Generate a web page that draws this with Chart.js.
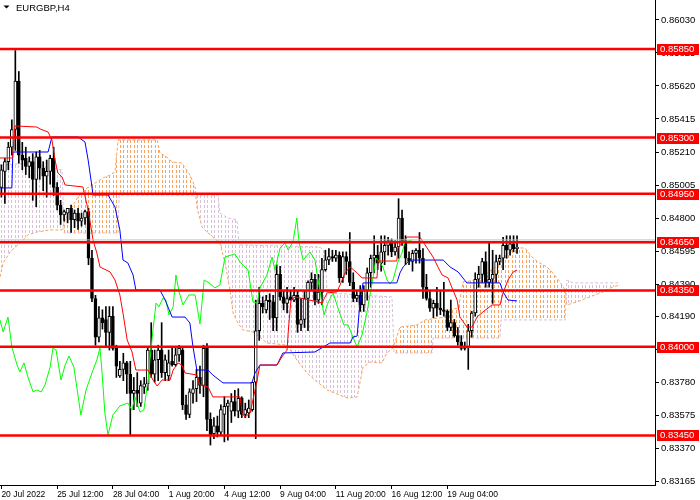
<!DOCTYPE html>
<html>
<head>
<meta charset="utf-8">
<title>EURGBP,H4</title>
<script src="https://cdn.jsdelivr.net/npm/chart.js@4.4.1/dist/chart.umd.min.js"></script>
<style>
  html, body { margin: 0; padding: 0; background: #fff; }
  #wrap { width: 700px; height: 500px; }
</style>
</head>
<body>
<div id="wrap"><canvas id="chart" width="700" height="500"></canvas></div>
<script>
// H4 candles, bar index 0..148
const openP = [
0.8499,0.8509,0.8515,0.8524,0.8535,0.8565,0.8519,0.8517,0.8512,0.8515,
0.8504,0.8518,0.8511,0.8506,0.8509,0.8517,0.8499,0.8488,0.8482,0.8483,
0.8486,0.8479,0.8483,0.8478,0.8480,0.8484,0.8455,0.8430,0.8406,0.8418,
0.8417,0.8409,0.8419,0.8399,0.8382,0.8386,0.8390,0.8383,0.8371,0.8373,
0.8365,0.8375,0.8377,0.8398,0.8383,0.8392,0.8398,0.8384,0.8382,0.8391,
0.8389,0.8395,0.8398,0.8364,0.8358,0.8371,0.8374,0.8381,0.8376,0.8399,
0.8355,0.8346,0.8351,0.8347,0.8358,0.8363,0.8360,0.8366,0.8360,0.8368,
0.8358,0.8359,0.8361,0.8378,0.8410,0.8427,0.8423,0.8429,0.8428,0.8418,
0.8445,0.8431,0.8427,0.8431,0.8429,0.8432,0.8414,0.8417,0.8430,0.8440,
0.8442,0.8429,0.8434,0.8448,0.8454,0.8456,0.8455,0.8457,0.8443,0.8456,
0.8453,0.8440,0.8430,0.8432,0.8426,0.8435,0.8446,0.8455,0.8457,0.8452,
0.8459,0.8463,0.8466,0.8459,0.8462,0.8480,0.8466,0.8455,0.8453,0.8458,
0.8460,0.8455,0.8437,0.8430,0.8424,0.8427,0.8424,0.8423,0.8422,0.8412,
0.8415,0.8407,0.8403,0.8399,0.8400,0.8410,0.8421,0.8442,0.8445,0.8453,
0.8440,0.8442,0.8445,0.8453,0.8455,0.8463,0.8460,0.8464,0.8461];
const highP = [
0.8513,0.8517,0.8527,0.8541,0.8584,0.8571,0.8527,0.8524,0.8518,0.8520,
0.8521,0.8522,0.8515,0.8516,0.8519,0.8524,0.8502,0.8491,0.8485,0.8486,
0.8488,0.8485,0.8486,0.8483,0.8485,0.8486,0.8460,0.8432,0.8425,0.8423,
0.8425,0.8425,0.8425,0.8401,0.8391,0.8396,0.8391,0.8391,0.8381,0.8384,
0.8379,0.8381,0.8400,0.8415,0.8398,0.8401,0.8415,0.8395,0.8398,0.8400,
0.8400,0.8401,0.8400,0.8370,0.8374,0.8379,0.8386,0.8388,0.8401,0.8402,
0.8359,0.8356,0.8357,0.8364,0.8369,0.8367,0.8371,0.8373,0.8374,0.8369,
0.8365,0.8367,0.8378,0.8429,0.8437,0.8431,0.8432,0.8433,0.8432,0.8451,
0.8450,0.8435,0.8437,0.8435,0.8437,0.8435,0.8430,0.8435,0.8441,0.8446,
0.8445,0.8445,0.8455,0.8460,0.8461,0.8460,0.8460,0.8459,0.8459,0.8459,
0.8471,0.8446,0.8435,0.8438,0.8438,0.8449,0.8457,0.8469,0.8463,0.8469,
0.8469,0.8468,0.8467,0.8466,0.8492,0.8485,0.8469,0.8459,0.8460,0.8461,
0.8471,0.8461,0.8445,0.8435,0.8429,0.8437,0.8435,0.8440,0.8423,0.8429,
0.8417,0.8412,0.8407,0.8403,0.8414,0.8422,0.8446,0.8450,0.8455,0.8459,
0.8465,0.8460,0.8457,0.8457,0.8468,0.8469,0.8469,0.8469,0.8469];
const lowP = [
0.8493,0.8489,0.8510,0.8519,0.8522,0.8514,0.8510,0.8507,0.8505,0.8491,
0.8487,0.8504,0.8497,0.8493,0.8501,0.8494,0.8485,0.8476,0.8478,0.8477,
0.8471,0.8474,0.8473,0.8475,0.8476,0.8451,0.8428,0.8401,0.8403,0.8411,
0.8400,0.8398,0.8398,0.8381,0.8381,0.8379,0.8371,0.8345,0.8361,0.8363,
0.8363,0.8371,0.8373,0.8381,0.8378,0.8379,0.8381,0.8379,0.8379,0.8388,
0.8388,0.8391,0.8361,0.8355,0.8356,0.8365,0.8366,0.8371,0.8369,0.8348,
0.8339,0.8343,0.8344,0.8345,0.8341,0.8342,0.8353,0.8357,0.8356,0.8356,
0.8356,0.8356,0.8360,0.8343,0.8404,0.8421,0.8421,0.8417,0.8410,0.8410,
0.8429,0.8423,0.8421,0.8429,0.8428,0.8409,0.8410,0.8412,0.8410,0.8435,
0.8426,0.8427,0.8426,0.8447,0.8451,0.8453,0.8453,0.8440,0.8440,0.8445,
0.8438,0.8428,0.8428,0.8422,0.8422,0.8429,0.8437,0.8446,0.8448,0.8447,
0.8451,0.8457,0.8456,0.8457,0.8455,0.8463,0.8451,0.8451,0.8447,0.8452,
0.8452,0.8430,0.8429,0.8422,0.8418,0.8419,0.8420,0.8419,0.8410,0.8410,
0.8406,0.8401,0.8398,0.8398,0.8386,0.8406,0.8419,0.8437,0.8440,0.8437,
0.8437,0.8427,0.8440,0.8451,0.8448,0.8455,0.8457,0.8459,0.8458];
const closeP = [
0.8510,0.8515,0.8524,0.8535,0.8565,0.8519,0.8516,0.8512,0.8515,0.8504,
0.8518,0.8511,0.8506,0.8509,0.8517,0.8499,0.8488,0.8482,0.8484,0.8486,
0.8479,0.8483,0.8478,0.8480,0.8484,0.8455,0.8430,0.8406,0.8418,0.8415,
0.8409,0.8419,0.8399,0.8388,0.8386,0.8390,0.8383,0.8371,0.8373,0.8371,
0.8376,0.8377,0.8398,0.8383,0.8392,0.8398,0.8384,0.8392,0.8390,0.8389,
0.8395,0.8399,0.8364,0.8358,0.8372,0.8374,0.8381,0.8376,0.8399,0.8355,
0.8345,0.8351,0.8347,0.8361,0.8363,0.8365,0.8366,0.8360,0.8368,0.8358,
0.8361,0.8362,0.8378,0.8410,0.8427,0.8425,0.8429,0.8428,0.8418,0.8445,
0.8431,0.8427,0.8430,0.8429,0.8432,0.8414,0.8417,0.8430,0.8440,0.8442,
0.8429,0.8434,0.8448,0.8454,0.8456,0.8455,0.8457,0.8443,0.8456,0.8453,
0.8440,0.8430,0.8432,0.8426,0.8435,0.8446,0.8455,0.8457,0.8452,0.8459,
0.8463,0.8466,0.8459,0.8462,0.8480,0.8466,0.8455,0.8453,0.8458,0.8460,
0.8455,0.8437,0.8430,0.8424,0.8427,0.8424,0.8423,0.8422,0.8412,0.8415,
0.8407,0.8403,0.8399,0.8400,0.8410,0.8421,0.8442,0.8445,0.8453,0.8440,
0.8442,0.8445,0.8453,0.8455,0.8463,0.8460,0.8464,0.8461,0.8462];

// Ichimoku lines as [bar index, price] vertices
const tenkanPts = [[-0.4,.85173],[3.2,.85173],[3.9,.85372],[10.2,.85365],[11.1,.85353],[13.4,.85334],[14.5,.85285],[15.4,.85160],[16.2,.85080],[17.4,.85055],[18.3,.85005],[23.4,.84993],[24.9,.84850],[26.3,.84664],[27.4,.84583],[28.3,.84496],[31.2,.84465],[32.6,.84415],[34.0,.84322],[34.9,.84210],[36.1,.84043],[37.5,.83968],[38.6,.83856],[42.1,.83856],[43.5,.83794],[44.7,.83757],[46.1,.83794],[48.4,.83794],[49.3,.83856],[50.7,.83900],[51.8,.83887],[52.7,.83838],[56.1,.83825],[57.0,.83763],[59.3,.83751],[60.7,.83689],[68.5,.83689],[69.1,.83589],[69.9,.83564],[71.4,.83589],[72.2,.83670],[73.4,.83794],[74.2,.83887],[79.1,.83887],[80.5,.83937],[82.0,.83980],[82.3,.84086],[83.1,.84291],[84.3,.84310],[90.9,.84279],[92.0,.84272],[93.5,.84335],[96.3,.84341],[97.2,.84384],[98.6,.84459],[100.1,.84496],[102.1,.84459],[103.5,.84428],[107.8,.84428],[108.1,.84533],[113.5,.84533],[113.8,.84614],[116.4,.84682],[120.1,.84682],[121.6,.84633],[123.9,.84558],[125.3,.84496],[126.5,.84446],[128.2,.84428],[129.6,.84353],[130.8,.84291],[131.6,.84185],[133.6,.84123],[135.1,.84123],[136.5,.84185],[138.2,.84216],[140.8,.84260],[143.1,.84260],[144.0,.84335],[145.4,.84415],[146.9,.84465],[148.0,.84477]];
const kijunPts = [[-0.4,.84987],[3.0,.84987],[3.3,.85210],[13.4,.85210],[14.5,.85303],[22.0,.85303],[24.0,.85272],[24.9,.85160],[26.0,.84993],[26.3,.84943],[30.6,.84943],[32.6,.84869],[34.0,.84726],[34.9,.84539],[36.3,.84521],[37.8,.84446],[38.6,.84353],[45.5,.84353],[47.0,.84291],[49.0,.84185],[52.7,.84185],[54.1,.84148],[55.0,.83999],[56.1,.83856],[59.3,.83856],[60.7,.83825],[63.6,.83776],[71.9,.83776],[72.8,.83838],[74.2,.83887],[79.1,.83887],[80.8,.83962],[90.0,.83968],[94.3,.84024],[100.1,.84024],[100.9,.84061],[102.1,.84067],[102.9,.84272],[103.8,.84397],[113.5,.84397],[114.4,.84459],[115.3,.84496],[117.3,.84539],[126.8,.84539],[128.8,.84496],[131.1,.84465],[133.6,.84397],[143.1,.84397],[144.0,.84341],[145.4,.84291],[148.0,.84285]];
const chikouPts = [[-0.4,.84167],[0.5,.84092],[1.9,.84185],[3.0,.83999],[4.5,.83887],[5.3,.83844],[6.5,.83900],[7.6,.83813],[9.1,.83720],[10.2,.83732],[11.4,.83720],[12.5,.83763],[14.0,.83875],[14.8,.83993],[15.7,.83980],[17.1,.83794],[18.3,.83887],[19.4,.83943],[20.8,.83875],[22.8,.83577],[24.3,.83732],[26.0,.83838],[27.4,.83918],[28.3,.83993],[28.9,.83838],[29.7,.83589],[30.6,.83453],[32.0,.83577],[34.0,.83633],[36.3,.83651],[37.5,.83608],[38.3,.83689],[39.8,.83595],[40.9,.83608],[42.1,.83794],[43.5,.84105],[44.4,.84272],[45.2,.84248],[46.4,.84303],[47.2,.84291],[48.1,.84198],[49.3,.84248],[50.1,.84446],[51.0,.84341],[52.1,.84260],[53.8,.84322],[55.6,.84322],[57.0,.84142],[58.2,.84415],[59.6,.84397],[61.3,.84366],[62.7,.84384],[64.2,.84558],[67.0,.84577],[68.5,.84527],[70.8,.84477],[72.2,.84279],[73.4,.84272],[74.2,.84366],[76.2,.84446],[77.7,.84558],[78.5,.84477],[80.0,.84614],[81.4,.84645],[82.3,.84602],[83.7,.84651],[84.8,.84800],[85.4,.84651],[86.6,.84539],[88.6,.84589],[90.0,.84539],[90.9,.84415],[92.6,.84198],[93.7,.84272],[95.2,.84335],[96.6,.84241],[98.3,.84136],[99.5,.84136],[100.9,.84061],[102.1,.83999],[103.5,.84074],[104.9,.84210],[105.8,.84322],[106.7,.84434],[107.5,.84552],[108.7,.84521],[109.5,.84496],[110.7,.84415],[111.5,.84390],[112.4,.84415],[113.8,.84527],[115.0,.84583],[115.8,.84651],[117.9,.84664]];
const spanAPts = [[-0.4,.84434],[0.5,.84521],[2.5,.84589],[5.3,.84645],[7.6,.84695],[10.2,.84713],[14.0,.84726],[17.4,.84726],[18.3,.84788],[20.3,.84869],[22.0,.84931],[24.6,.84987],[26.9,.85018],[29.2,.85049],[31.2,.85067],[32.6,.85086],[33.5,.85285],[44.7,.85285],[45.5,.85204],[47.5,.85179],[49.0,.85148],[51.8,.85142],[54.1,.85067],[55.6,.84993],[56.1,.84869],[57.6,.84744],[59.0,.84713],[62.7,.84645],[64.2,.84521],[65.6,.84353],[66.5,.84210],[67.9,.84148],[69.3,.84105],[72.2,.84092],[74.2,.84061],[76.2,.84024],[82.0,.84011],[84.8,.83918],[87.7,.83838],[90.0,.83794],[93.5,.83732],[99.2,.83682],[102.1,.83689],[103.8,.83875],[105.8,.83906],[109.2,.83900],[110.7,.83962],[112.4,.83993],[114.4,.84123],[119.3,.84136],[121.6,.84167],[127.3,.84185],[128.2,.84229],[131.1,.84241],[131.6,.84291],[132.5,.84403],[136.5,.84415],[138.8,.84446],[143.1,.84521],[144.0,.84558],[146.0,.84589],[148.0,.84614],[150.3,.84614],[152.3,.84558],[154.0,.84527],[156.6,.84496],[158.3,.84459],[160.3,.84403],[161.8,.84353],[162.3,.84260],[165.2,.84279],[168.9,.84310],[172.7,.84341],[175.5,.84372],[177.6,.84384]];
const spanBPts = [[-0.4,.85129],[9.6,.85142],[12.5,.85117],[17.4,.85098],[18.0,.84707],[33.5,.84707],[33.8,.84943],[62.2,.84943],[62.7,.84831],[65.0,.84800],[67.6,.84788],[68.2,.84633],[91.4,.84620],[92.9,.84589],[93.5,.84335],[112.1,.84310],[112.7,.83962],[123.6,.83962],[123.9,.84055],[143.1,.84055],[143.4,.84167],[161.8,.84167],[162.3,.84415],[164.1,.84397],[177.6,.84397]];

const levels = [0.8585, 0.8530, 0.8495, 0.8465, 0.8435, 0.8400, 0.8345];
const bidPrice = 0.84664;
const yTickVals = [0.86030, 0.85825, 0.85620, 0.85415, 0.85210, 0.85005, 0.84800, 0.84595, 0.84390, 0.84190, 0.83985, 0.83780, 0.83575, 0.83370, 0.83165];
const xTickIdx = [0, 16, 32, 48, 64, 80, 96, 112, 128];
const xTickLabels = ['20 Jul 2022', '25 Jul 12:00', '28 Jul 04:00', '1 Aug 20:00', '4 Aug 12:00', '9 Aug 04:00', '11 Aug 20:00', '16 Aug 12:00', '19 Aug 04:00'];

const xMin = -0.4, xMax = 187.6;
const yMin = 0.83142, yMax = 0.86154;

Chart.defaults.font.family = '"Liberation Sans", Arial, sans-serif';

const canvas = document.getElementById('chart');
const ctx = canvas.getContext('2d');

// MT4 style cloud: short vertical dashes
function dashPattern(color) {
    const c = document.createElement('canvas');
    c.width = 7; c.height = 5;
    const g = c.getContext('2d');
    g.fillStyle = color;
    g.fillRect(1, 0, 1, 3);
    g.fillRect(4, 0, 1, 3);
    return ctx.createPattern(c, 'repeat');
}

const pts = list => list.map(p => ({ x: p[0], y: p[1] }));
const bars = openP.map((_, i) => i);

const wickData = bars.map(i => ({ x: i, y: [lowP[i], highP[i]] }));
const bodyData = bars.map(i => ({ x: i, y: [openP[i], closeP[i]] }));
const bodyColors = bars.map(i => closeP[i] >= openP[i] ? '#ffffff' : '#000000');

function lineSet(list, color, order, extra) {
    return Object.assign({
        type: 'line', data: pts(list), borderColor: color, borderWidth: 1,
        pointRadius: 0, tension: 0, fill: false, order: order
    }, extra || {});
}

const datasets = [
    lineSet(spanAPts, '#F4A460', 10, {
        borderDash: [3, 2],
        fill: { target: 1, above: dashPattern('#F4A460'), below: dashPattern('#D8BFD8') }
    }),
    lineSet(spanBPts, '#D8BFD8', 9, { borderDash: [3, 2] }),
    {
        type: 'bar', data: wickData, backgroundColor: '#000', borderWidth: 0,
        barThickness: 1, grouped: false, order: 8
    },
    {
        type: 'bar', data: bodyData, backgroundColor: bodyColors, borderColor: '#000',
        borderWidth: 1, borderSkipped: false, barThickness: 3, minBarLength: 1,
        grouped: false, order: 7
    },
    lineSet(chikouPts, '#00FF00', 6),
    lineSet(kijunPts, '#0000FF', 5),
    lineSet(tenkanPts, '#FF0000', 4),
    lineSet([[xMin, bidPrice], [xMax, bidPrice]], '#C0C0C0', 3)
];
levels.forEach(v => {
    datasets.push(lineSet([[xMin, v], [xMax, v]], '#FF0000', 1, { borderWidth: 2.5 }));
});

const titleMark = {
    id: 'titleMark',
    afterDraw(chart) {
        const c = chart.ctx;
        c.save();
        c.fillStyle = '#000';
        c.beginPath();
        c.moveTo(3.5, 5.5); c.lineTo(9.5, 5.5); c.lineTo(6.5, 8.5);
        c.closePath(); c.fill();
        c.font = '9.5px "Liberation Sans", Arial, sans-serif';
        c.textBaseline = 'middle';
        c.fillText('EURGBP,H4', 16, 8);
        c.restore();
    }
};

const levelTags = {
    id: 'levelTags',
    afterDraw(chart) {
        const c = chart.ctx;
        const ys = chart.scales.y;
        const left = chart.chartArea.right + 2;
        c.save();
        c.font = '9.5px "Liberation Sans", Arial, sans-serif';
        c.textBaseline = 'middle';
        levels.forEach(v => {
            const py = Math.round(ys.getPixelForValue(v));
            c.fillStyle = '#FF0000';
            c.fillRect(left, py - 5, 42, 11);
            c.fillStyle = '#FFFFFF';
            c.fillText(v.toFixed(5), left + 3, py + 0.5);
        });
        c.restore();
    }
};

new Chart(ctx, {
    type: 'bar',
    data: { datasets: datasets },
    options: {
        responsive: false,
        animation: false,
        events: [],
        layout: { autoPadding: false, padding: 0 },
        plugins: {
            legend: { display: false },
            tooltip: { enabled: false },
            filler: { propagate: false }
        },
        scales: {
            x: {
                type: 'linear', min: xMin, max: xMax, offset: false,
                afterBuildTicks: s => { s.ticks = xTickIdx.map(v => ({ value: v })); },
                afterFit: s => { s.height = 15; s.paddingLeft = 0; s.paddingRight = 0; },
                ticks: {
                    autoSkip: false, maxRotation: 0, align: 'start', padding: 1,
                    color: '#000', font: { size: 8.5 },
                    callback: v => { const k = xTickIdx.indexOf(v); return k >= 0 ? xTickLabels[k] : ''; }
                },
                grid: { drawOnChartArea: false, drawTicks: true, tickLength: 4, color: '#000', offset: false },
                border: { display: true, color: '#000', width: 1 }
            },
            y: {
                type: 'linear', position: 'right', min: yMin, max: yMax,
                afterBuildTicks: s => { s.ticks = yTickVals.map(v => ({ value: v })); },
                afterFit: s => { s.width = 45; s.paddingTop = 0; s.paddingBottom = 0; },
                ticks: {
                    autoSkip: false, padding: 2, color: '#000', font: { size: 9.5 },
                    callback: v => v.toFixed(5)
                },
                grid: { drawOnChartArea: false, drawTicks: true, tickLength: 4, color: '#000' },
                border: { display: true, color: '#000', width: 1 }
            }
        }
    },
    plugins: [titleMark, levelTags]
});
</script>
</body>
</html>
